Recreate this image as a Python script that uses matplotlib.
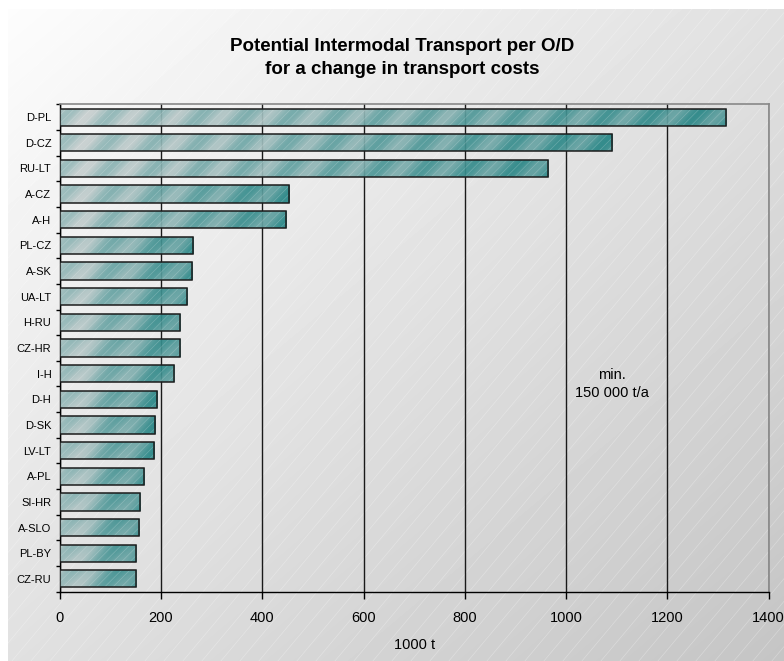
import numpy as np
import matplotlib
matplotlib.use("Agg")
import matplotlib.pyplot as plt

plt.rcParams["font.family"] = ["Liberation Sans", "DejaVu Sans"]
plt.rcParams["hatch.linewidth"] = 0.5

# O/D pairs, top to bottom, and their potential volume (1000 t)
routes = ["D-PL", "D-CZ", "RU-LT", "A-CZ", "A-H", "PL-CZ", "A-SK", "UA-LT", "H-RU",
          "CZ-HR", "I-H", "D-H", "D-SK", "LV-LT", "A-PL", "SI-HR", "A-SLO", "PL-BY", "CZ-RU"]
volumes = [1316, 1091, 964, 453, 447, 264, 262, 252, 238,
           238, 226, 193, 189, 186, 166, 158, 156, 151, 151]
x_ticks = [0, 200, 400, 600, 800, 1000, 1200, 1400]

W, H = 784, 661
fig = plt.figure(figsize=(W / 100, H / 100), dpi=100, facecolor="white")

# grey diagonal-gradient backdrop with faint white diagonal lines
bw, bh = W - 8, H - 9
bg = fig.add_axes([8 / W, 0, bw / W, bh / H], zorder=0)
yy, xx = np.mgrid[0:bh, 0:bw]
t = (xx / bw + yy / bh) / 2
shade = 0.99 - 0.22 * t
bg.imshow(shade, cmap="gray", vmin=0, vmax=1, extent=[0, bw, bh, 0], aspect="auto",
          interpolation="bilinear")
dx = bh / np.tan(np.radians(50))
for c in np.arange(-dx, bw + 20, 19):
    bg.plot([c, c + dx], [bh, 0], color="white", lw=0.5, alpha=0.3)
bg.set_xlim(0, bw)
bg.set_ylim(bh, 0)
bg.axis("off")

# main plot area
ax_l, ax_r, ax_t, ax_b = 59.7, 768.7, 104.3, 591.7
ax = fig.add_axes([ax_l / W, 1 - ax_b / H, (ax_r - ax_l) / W, (ax_b - ax_t) / H], zorder=1)
ax.patch.set_visible(False)

n = len(routes)
ypos = np.arange(n)
bar_h = 0.67
px_per_x = (ax_r - ax_l) / 1400
px_per_y = (ax_b - ax_t) / n

gray = np.array([0.80, 0.82, 0.82])
teal = np.array([0.10, 0.50, 0.50])

bars = ax.barh(ypos, volumes, height=bar_h, facecolor="none", edgecolor="#1c1c1c",
               lw=1.1, zorder=5)
for i, (bar, v) in enumerate(zip(bars, volumes)):
    wpx = max(int(v * px_per_x), 2)
    hpx = max(int(bar_h * px_per_y), 2)
    r, c = np.mgrid[0:hpx, 0:wpx]
    frac = c / max(wpx - 1, 1)
    wave = 0.5 + 0.5 * np.sin(2 * np.pi * (c + r) / 45)
    k = np.clip(0.15 + 0.65 * frac + 0.3 * (wave - 0.5), 0, 1)
    img = gray[None, None, :] * (1 - k[..., None]) + teal[None, None, :] * k[..., None]
    im = ax.imshow(img, extent=(0, v, i + bar_h / 2, i - bar_h / 2), aspect="auto",
                   origin="upper", zorder=3, alpha=0.92, interpolation="bilinear")
    im.set_clip_path(bar)

ax.barh(ypos, volumes, height=bar_h, facecolor="none", edgecolor=(1, 1, 1, 0.22),
        hatch="////", lw=0, zorder=4)

ax.set_xlim(0, 1400)
ax.set_ylim(n - 0.5, -0.5)

ax.set_xticks(x_ticks)
ax.set_xticklabels([str(v) for v in x_ticks])
ax.tick_params(axis="x", direction="out", length=5, width=1, pad=9, labelsize=10.5)
ax.set_yticks(ypos)
ax.set_yticklabels(routes)
ax.tick_params(axis="y", length=0, pad=6, labelsize=8)
ax.set_yticks(np.arange(-0.5, n, 1), minor=True)
ax.tick_params(axis="y", which="minor", direction="out", length=3, width=1)

ax.set_axisbelow(True)
ax.xaxis.grid(True, color="#1a1a1a", lw=1)

for side in ("top", "right"):
    ax.spines[side].set_color("#888888")
    ax.spines[side].set_linewidth(1.2)
for side in ("left", "bottom"):
    ax.spines[side].set_color("black")
    ax.spines[side].set_linewidth(1)

ax.set_xlabel("1000 t", fontsize=10.5, labelpad=9)

ax.text(0.779, 0.426, "min.\n150 000 t/a", transform=ax.transAxes, ha="center",
        va="center", fontsize=10.5, linespacing=1.4)

fig.text(402 / W, 1 - 58 / H,
         "Potential Intermodal Transport per O/D\nfor a change in transport costs",
         ha="center", va="center", fontsize=13.5, fontweight="bold", linespacing=1.4)

fig.savefig("out.png", dpi=100)
